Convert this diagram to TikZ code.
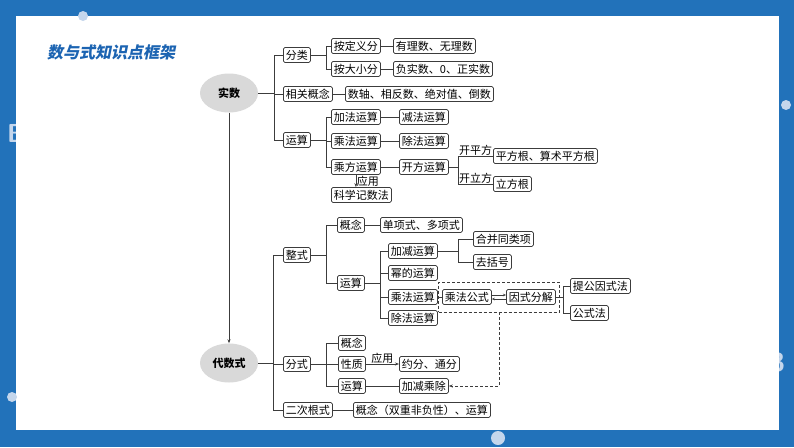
\documentclass[tikz,border=0pt]{standalone}
\usepackage{fontspec}
\newfontfamily\cjk{Noto Sans CJK SC}
\newfontfamily\titlecjk[FakeSlant=0.2]{Noto Sans CJK SC}
\usetikzlibrary{shapes.geometric,arrows.meta,fit}
\definecolor{frameblue}{RGB}{34,114,186}
\definecolor{dotblue}{RGB}{196,214,236}
\definecolor{titleblue}{RGB}{28,100,178}
\definecolor{linegray}{RGB}{60,60,60}
\tikzset{
  kbox/.style={draw=linegray, line width=0.8pt, rounded corners=1.5pt, fill=white, anchor=west,
    inner xsep=2.5pt, inner ysep=0pt, minimum height=15pt, font=\cjk\fontsize{11}{11}\selectfont},
  topic/.style={ellipse, fill=black!15, minimum width=58pt, minimum height=39pt, inner sep=0pt,
    font=\cjk\bfseries\fontsize{11}{11}\selectfont},
  link/.style={draw=linegray, line width=0.8pt},
  arrowlink/.style={link, -{Stealth[length=4pt,width=3pt]}},
  note/.style={font=\cjk\fontsize{11}{11}\selectfont, inner sep=0.5pt}
}
\begin{document}
\begin{tikzpicture}[x=1pt,y=-1pt]
\useasboundingbox (0,0) rectangle (794,447);

% Drawing frame
\fill[frameblue] (0,0) rectangle (794,447);
\node[font=\sffamily\bfseries\fontsize{26}{26}\selectfont, text=dotblue, anchor=west, inner sep=0pt] (decoL) at (7,133) {B};
\node[font=\sffamily\bfseries\fontsize{26}{26}\selectfont, text=dotblue, anchor=east, inner sep=0pt] (decoR) at (785,362) {3};
\fill[white] (16,16) rectangle (779,430);
\fill[dotblue] (83,16) circle (5pt);
\fill[dotblue] (12,397) circle (5pt);
\fill[dotblue] (786,105) circle (5pt);
\fill[dotblue] (498,438) circle (7pt);

% Title
\node[font=\titlecjk\bfseries\fontsize{16}{16}\selectfont, text=titleblue, anchor=west, inner sep=0pt] (title) at (47,52) {数与式知识点框架};

% Marking nodes of 实数
\node[topic] (shishu) at (229,93) {实数};
\node[kbox] (fenlei) at (283,55) {分类};
\node[kbox] (xggn) at (283,94) {相关概念};
\node[kbox] (ysA) at (283,140) {运算};
\node[kbox] (adyf) at (331,46) {按定义分};
\node[kbox] (adxf) at (331,69) {按大小分};
\node[kbox] (ylwl) at (393,46) {有理数、无理数};
\node[kbox] (fszs) at (393,69) {负实数、0、正实数};
\node[kbox] (shuzhou) at (345,94) {数轴、相反数、绝对值、倒数};
\node[kbox] (jiafa) at (331,117) {加法运算};
\node[kbox] (chengfa) at (331,141) {乘法运算};
\node[kbox] (chengfang) at (331,167) {乘方运算};
\node[kbox] (jianfa) at (399,117) {减法运算};
\node[kbox] (chufa) at (399,141) {除法运算};
\node[kbox] (kaifang) at (399,167) {开方运算};
\node[kbox] (pfg) at (493,156) {平方根、算术平方根};
\node[kbox] (lfg) at (493,184) {立方根};
\node[kbox] (kxjs) at (331,195) {科学记数法};

% Drawing links of 实数
\coordinate (busA) at (274,93);
\coordinate (busB) at (326,55);
\coordinate (busC) at (326,140);
\coordinate (busD) at (458,167);
\draw[link] (shishu.east) -- (busA);
\foreach \n in {fenlei,xggn,ysA} \draw[link] (busA) |- (\n.west);
\draw[link] (fenlei.east) -- (busB);
\foreach \n in {adyf,adxf} \draw[link] (busB) |- (\n.west);
\draw[link] (adyf) -- (ylwl);
\draw[link] (adxf) -- (fszs);
\draw[link] (xggn) -- (shuzhou);
\draw[link] (ysA.east) -- (busC);
\foreach \n in {jiafa,chengfa,chengfang} \draw[link] (busC) |- (\n.west);
\draw[link] (jiafa) -- (jianfa);
\draw[link] (chengfa) -- (chufa);
\draw[link] (chengfang) -- (kaifang);
\draw[link] (kaifang.east) -- (busD);
\draw[link] (busD) |- node[note, pos=0.75, above] {开平方} (pfg.west);
\draw[link] (busD) |- node[note, pos=0.75, above] {开立方} (lfg.west);
\draw[arrowlink] (chengfang.south) -- (chengfang.south |- kxjs.north) node[note, midway, right] {应用};

% Marking nodes of 代数式
\node[topic] (daishu) at (229,363) {代数式};
\node[kbox] (zhengshi) at (283,255) {整式};
\node[kbox] (fenshi) at (283,364) {分式};
\node[kbox] (ecgs) at (283,410) {二次根式};
\node[kbox] (ecnr) at (353,410) {概念（双重非负性）、运算};
\node[kbox] (gnB) at (337,225) {概念};
\node[kbox] (dxs) at (380,225) {单项式、多项式};
\node[kbox] (ysB) at (337,283) {运算};
\node[kbox] (jjys) at (388,251) {加减运算};
\node[kbox] (mdys) at (388,273) {幂的运算};
\node[kbox] (cfys) at (388,297) {乘法运算};
\node[kbox] (cfysB) at (388,318) {除法运算};
\node[kbox] (hbtl) at (473,239) {合并同类项};
\node[kbox] (qkh) at (473,262) {去括号};
\node[kbox] (cfgs) at (442,297) {乘法公式};
\node[kbox] (ysfj) at (506,297) {因式分解};
\node[kbox] (tgys) at (570,286) {提公因式法};
\node[kbox] (gsf) at (570,313) {公式法};
\node[kbox] (gnC) at (338,343) {概念};
\node[kbox] (xingzhi) at (338,364) {性质};
\node[kbox] (ysC) at (338,386) {运算};
\node[kbox] (yftf) at (399,364) {约分、通分};
\node[kbox] (jjcc) at (399,386) {加减乘除};
\node[draw=linegray, line width=0.8pt, dash pattern=on 3pt off 2pt, fit=(cfgs)(ysfj), inner xsep=3.5pt, inner ysep=7pt] (gsframe) {};

% Drawing links of 代数式
\draw[arrowlink] (shishu.south) -- (daishu.north);
\coordinate (busE) at (273,363);
\coordinate (busF) at (326,255);
\coordinate (busG) at (380,283);
\coordinate (busH) at (458,251);
\coordinate (busI) at (563,297);
\coordinate (busJ) at (326,364);
\draw[link] (daishu.east) -- (busE);
\foreach \n in {zhengshi,fenshi,ecgs} \draw[link] (busE) |- (\n.west);
\draw[link] (ecgs) -- (ecnr);
\draw[link] (zhengshi.east) -- (busF);
\foreach \n in {gnB,ysB} \draw[link] (busF) |- (\n.west);
\draw[link] (gnB) -- (dxs);
\draw[link] (ysB.east) -- (busG);
\foreach \n in {jjys,mdys,cfys,cfysB} \draw[link] (busG) |- (\n.west);
\draw[link] (jjys.east) -- (busH);
\foreach \n in {hbtl,qkh} \draw[link] (busH) |- (\n.west);
\draw[link] (cfys) -- (cfgs);
\draw[link, -{Stealth[length=3pt,width=2.5pt]}] ([yshift=2pt]cfgs.east) -- ([yshift=2pt]ysfj.west);
\draw[link, -{Stealth[length=3pt,width=2.5pt]}] ([yshift=-2pt]ysfj.west) -- ([yshift=-2pt]cfgs.east);
\draw[link] (ysfj.east) -- (busI);
\foreach \n in {tgys,gsf} \draw[link] (busI) |- (\n.west);
\draw[link] (fenshi.east) -- (busJ);
\foreach \n in {gnC,xingzhi,ysC} \draw[link] (busJ) |- (\n.west);
\draw[arrowlink] (xingzhi) -- (yftf) node[note, midway, above] {应用};
\draw[link] (ysC) -- (jjcc);
\draw[link, dash pattern=on 3pt off 2pt, -{Stealth[length=4pt,width=3pt]}] (gsframe.south) |- (jjcc.east);
\end{tikzpicture}
\end{document}
